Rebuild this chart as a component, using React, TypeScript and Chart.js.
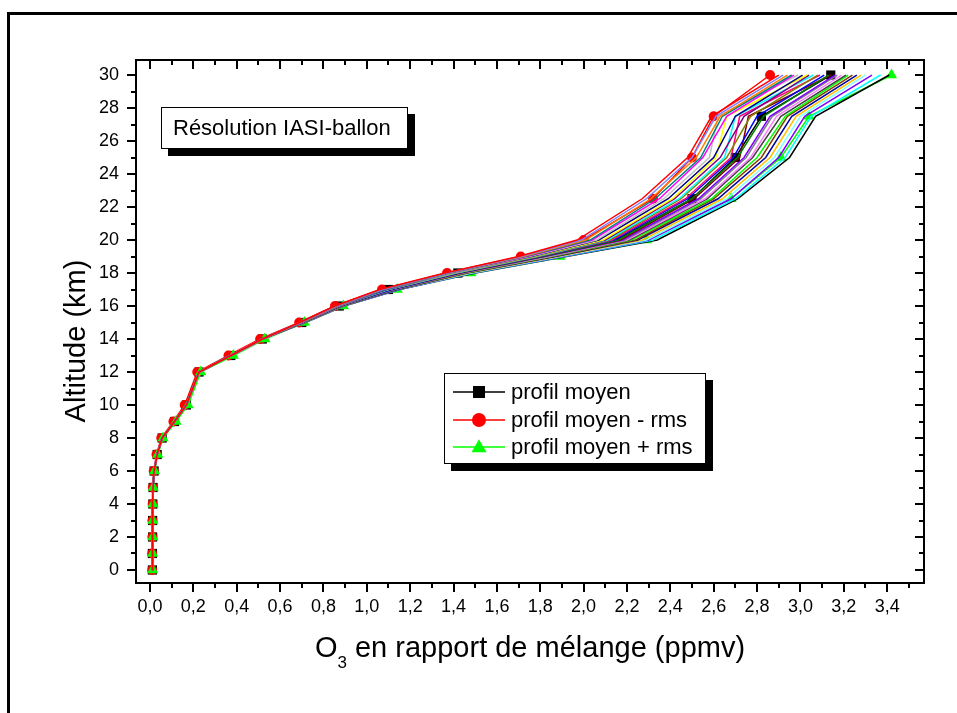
import React, { useEffect, useRef } from 'react';
import { Chart, registerables } from 'chart.js';

Chart.register(...registerables);

// ---------- data ----------
const altitudes = [0, 1, 2, 3, 4, 5, 6, 7, 8, 9, 10, 12, 13, 14, 15, 16, 17, 18, 19, 20, 22.5, 25, 27.5, 30];
const meanProfile = [0.011, 0.011, 0.012, 0.012, 0.013, 0.014, 0.019, 0.033, 0.056, 0.113, 0.168, 0.226, 0.373, 0.518, 0.700, 0.873, 1.10, 1.42, 1.80, 2.15, 2.50, 2.70, 2.82, 3.14];
const minusRmsProfile = [0.010, 0.010, 0.011, 0.011, 0.012, 0.013, 0.017, 0.030, 0.052, 0.108, 0.160, 0.218, 0.362, 0.508, 0.688, 0.853, 1.07, 1.37, 1.71, 2.00, 2.32, 2.50, 2.60, 2.86];
const plusRmsProfile = [0.012, 0.012, 0.013, 0.013, 0.014, 0.015, 0.021, 0.036, 0.060, 0.120, 0.176, 0.234, 0.384, 0.530, 0.712, 0.892, 1.14, 1.48, 1.89, 2.29, 2.68, 2.91, 3.04, 3.42];

// individual profiles: shared lower part + each profile's upper part
const ensembleLowAltitudes = [0, 1, 2, 3, 4, 5, 6, 7, 8, 9, 10, 12, 13, 14];
const ensembleLowValues = [0.011, 0.011, 0.012, 0.012, 0.013, 0.014, 0.019, 0.033, 0.056, 0.113, 0.168, 0.226, 0.373, 0.518];
const ensembleUpAltitudes = [15, 16, 17, 18, 19, 20, 22.5, 25, 27.5, 30];
const ensembleProfiles = [
  [0.690, 0.852, 1.06, 1.36, 1.70, 1.97, 2.27, 2.48, 2.59, 2.90],
  [0.691, 0.855, 1.07, 1.37, 1.71, 1.99, 2.29, 2.50, 2.61, 2.92],
  [0.692, 0.857, 1.07, 1.37, 1.72, 2.01, 2.31, 2.52, 2.63, 2.94],
  [0.693, 0.859, 1.08, 1.38, 1.73, 2.03, 2.33, 2.54, 2.64, 2.96],
  [0.694, 0.861, 1.08, 1.38, 1.74, 2.04, 2.35, 2.55, 2.66, 2.97],
  [0.695, 0.863, 1.08, 1.39, 1.75, 2.06, 2.37, 2.58, 2.62, 2.99],
  [0.696, 0.865, 1.09, 1.39, 1.76, 2.07, 2.39, 2.60, 2.70, 3.01],
  [0.697, 0.866, 1.09, 1.40, 1.77, 2.09, 2.41, 2.61, 2.66, 3.03],
  [0.698, 0.868, 1.09, 1.40, 1.77, 2.10, 2.42, 2.63, 2.74, 3.04],
  [0.699, 0.870, 1.10, 1.41, 1.78, 2.11, 2.44, 2.65, 2.70, 3.06],
  [0.700, 0.871, 1.10, 1.41, 1.79, 2.12, 2.45, 2.66, 2.77, 3.08],
  [0.701, 0.873, 1.10, 1.41, 1.79, 2.13, 2.47, 2.68, 2.72, 3.09],
  [0.702, 0.875, 1.11, 1.42, 1.80, 2.14, 2.48, 2.69, 2.80, 3.11],
  [0.703, 0.876, 1.11, 1.42, 1.81, 2.16, 2.50, 2.71, 2.83, 3.13],
  [0.704, 0.878, 1.11, 1.43, 1.81, 2.17, 2.51, 2.72, 2.76, 3.14],
  [0.705, 0.879, 1.12, 1.43, 1.82, 2.18, 2.53, 2.74, 2.86, 3.16],
  [0.706, 0.881, 1.12, 1.44, 1.83, 2.19, 2.54, 2.75, 2.87, 3.17],
  [0.707, 0.882, 1.12, 1.44, 1.84, 2.20, 2.56, 2.77, 2.89, 3.19],
  [0.708, 0.884, 1.13, 1.45, 1.84, 2.21, 2.57, 2.78, 2.91, 3.21],
  [0.709, 0.885, 1.13, 1.45, 1.85, 2.22, 2.59, 2.80, 2.93, 3.22],
  [0.710, 0.886, 1.13, 1.46, 1.86, 2.24, 2.60, 2.82, 2.94, 3.24],
  [0.711, 0.888, 1.14, 1.46, 1.87, 2.25, 2.62, 2.84, 2.96, 3.26],
  [0.712, 0.889, 1.14, 1.47, 1.88, 2.27, 2.64, 2.86, 2.98, 3.28],
  [0.713, 0.890, 1.14, 1.48, 1.89, 2.29, 2.66, 2.88, 3.00, 3.30],
  [0.714, 0.892, 1.15, 1.48, 1.90, 2.30, 2.68, 2.90, 3.02, 3.33],
  [0.715, 0.893, 1.15, 1.49, 1.91, 2.32, 2.70, 2.93, 3.05, 3.37],
  [0.716, 0.895, 1.15, 1.50, 1.92, 2.34, 2.71, 2.95, 3.07, 3.41],
];
const ensembleColors = [
  '#FF0000', '#8080FF', '#FF8000', '#008080', '#FF00FF', '#C0C0C0', '#000080', '#FFFF00',
  '#800080', '#00FFFF', '#808000', '#FF0080', '#0000FF', '#008000', '#800000', '#8000FF',
  '#808080', '#FF80FF', '#404040', '#00FF00', '#804000', '#0000A0', '#FFC000', '#80FFFF',
  '#8000FF', '#00FFFF', '#000000',
];

const xMajorTicks = [0, 0.2, 0.4, 0.6, 0.8, 1.0, 1.2, 1.4, 1.6, 1.8, 2.0, 2.2, 2.4, 2.6, 2.8, 3.0, 3.2, 3.4];
const xMinorTicks = [0.1, 0.3, 0.5, 0.7, 0.9, 1.1, 1.3, 1.5, 1.7, 1.9, 2.1, 2.3, 2.5, 2.7, 2.9, 3.1, 3.3, 3.5];
const yMajorTicks = [0, 2, 4, 6, 8, 10, 12, 14, 16, 18, 20, 22, 24, 26, 28, 30];
const yMinorTicks = [1, 3, 5, 7, 9, 11, 13, 15, 17, 19, 21, 23, 25, 27, 29];

const seriesLabels = ['profil moyen', 'profil moyen - rms', 'profil moyen + rms'];
const annotationText = 'Résolution IASI-ballon';
const yTitle = 'Altitude (km)';
const xTitleMain = 'O';
const xTitleSub = '3';
const xTitleRest = ' en rapport de mélange (ppmv)';

const FONT = '"Liberation Sans", Arial, Helvetica, sans-serif';

const toPoints = (xs: number[], ys: number[]) => xs.map((v, i) => ({ x: v, y: ys[i] }));

function drawMarker(ctx: CanvasRenderingContext2D, kind: string, x: number, y: number, s: number, color: string) {
  ctx.fillStyle = color;
  ctx.beginPath();
  if (kind === 'rect') {
    ctx.rect(x - s / 2, y - s / 2, s, s);
  } else if (kind === 'circle') {
    ctx.arc(x, y, s / 2, 0, Math.PI * 2);
  } else {
    const h = s * 0.87;
    ctx.moveTo(x, y - h * 0.6);
    ctx.lineTo(x + s / 2, y + h * 0.4);
    ctx.lineTo(x - s / 2, y + h * 0.4);
    ctx.closePath();
  }
  ctx.fill();
}

const decorPlugin = {
  id: 'decor',
  afterDraw(chart: any) {
    const { ctx, chartArea: a, scales } = chart;
    const xs = scales.x;
    const ys = scales.y;
    ctx.save();

    // outer frame (left and top)
    ctx.fillStyle = '#000';
    ctx.fillRect(7, 12, 950, 3);
    ctx.fillRect(7, 12, 3, 701);

    // axes box
    ctx.strokeStyle = '#000';
    ctx.lineWidth = 2;
    ctx.strokeRect(a.left, a.top, a.right - a.left, a.bottom - a.top);

    const seg = (x1: number, y1: number, x2: number, y2: number) => {
      ctx.beginPath();
      ctx.moveTo(x1, y1);
      ctx.lineTo(x2, y2);
      ctx.stroke();
    };
    const MAJ = 9;
    const MIN = 5;
    xMajorTicks.forEach((v) => {
      const p = Math.round(xs.getPixelForValue(v));
      seg(p, a.bottom, p, a.bottom + MAJ);
      seg(p, a.top, p, a.top + MAJ);
    });
    xMinorTicks.forEach((v) => {
      const p = Math.round(xs.getPixelForValue(v));
      seg(p, a.bottom, p, a.bottom + MIN);
      seg(p, a.top, p, a.top + MIN);
    });
    yMajorTicks.forEach((v) => {
      const p = Math.round(ys.getPixelForValue(v));
      seg(a.left - MAJ, p, a.left, p);
      seg(a.right - MAJ, p, a.right, p);
    });
    yMinorTicks.forEach((v) => {
      const p = Math.round(ys.getPixelForValue(v));
      seg(a.left - MIN, p, a.left, p);
      seg(a.right - MIN, p, a.right, p);
    });

    // x title with subscript
    ctx.fillStyle = '#000';
    ctx.textBaseline = 'alphabetic';
    ctx.textAlign = 'left';
    const bigFont = `29px ${FONT}`;
    const subFont = `17px ${FONT}`;
    ctx.font = bigFont;
    const w1 = ctx.measureText(xTitleMain).width;
    const w3 = ctx.measureText(xTitleRest).width;
    ctx.font = subFont;
    const w2 = ctx.measureText(xTitleSub).width;
    const total = w1 + w2 + w3;
    let tx = (a.left + a.right) / 2 - total / 2;
    ctx.font = bigFont;
    ctx.fillText(xTitleMain, tx, 657);
    tx += w1;
    ctx.font = subFont;
    ctx.fillText(xTitleSub, tx, 668);
    tx += w2;
    ctx.font = bigFont;
    ctx.fillText(xTitleRest, tx, 657);

    // y title
    ctx.save();
    ctx.translate(85, 341);
    ctx.rotate(-Math.PI / 2);
    ctx.textAlign = 'center';
    ctx.font = bigFont;
    ctx.fillText(yTitle, 0, 0);
    ctx.restore();

    // annotation box with shadow
    ctx.fillStyle = '#000';
    ctx.fillRect(168, 114, 247, 42);
    ctx.fillStyle = '#fff';
    ctx.fillRect(161, 107, 247, 42);
    ctx.lineWidth = 1;
    ctx.strokeStyle = '#000';
    ctx.strokeRect(161.5, 107.5, 246, 41);
    ctx.fillStyle = '#000';
    ctx.font = `22px ${FONT}`;
    ctx.textBaseline = 'middle';
    ctx.textAlign = 'left';
    ctx.fillText(annotationText, 173, 129);

    // legend with shadow
    ctx.fillStyle = '#000';
    ctx.fillRect(451, 380, 262, 91);
    ctx.fillStyle = '#fff';
    ctx.fillRect(444, 373, 262, 91);
    ctx.strokeStyle = '#000';
    ctx.lineWidth = 1;
    ctx.strokeRect(444.5, 373.5, 261, 90);
    const rows = [392, 420, 447];
    const colors = ['#000000', '#FF0000', '#00FF00'];
    const kinds = ['rect', 'circle', 'triangle'];
    const sizes = [12, 14, 15];
    rows.forEach((ry, i) => {
      ctx.strokeStyle = colors[i];
      ctx.lineWidth = 1.5;
      seg(453, ry, 505, ry);
      drawMarker(ctx, kinds[i], 479, ry, sizes[i], colors[i]);
      ctx.fillStyle = '#000';
      ctx.font = `22px ${FONT}`;
      ctx.textBaseline = 'middle';
      ctx.fillText(seriesLabels[i], 511, ry + 1);
    });

    ctx.restore();
  },
};

export default function App() {
  const ref = useRef<HTMLCanvasElement>(null);

  useEffect(() => {
    const canvas = ref.current;
    if (!canvas) return;

    const ensembleDatasets = ensembleProfiles.map((prof, i) => ({
      label: `profil ${i + 1}`,
      data: [
        ...toPoints(ensembleLowValues, ensembleLowAltitudes),
        ...toPoints(prof, ensembleUpAltitudes),
      ],
      showLine: true,
      borderColor: ensembleColors[i % ensembleColors.length],
      borderWidth: 1.5,
      pointRadius: 0,
      tension: 0,
      order: 1,
    }));

    const marked = [
      { values: meanProfile, color: '#000000', style: 'rect', radius: 6.5, order: 7 },
      { values: minusRmsProfile, color: '#FF0000', style: 'circle', radius: 5, order: 6 },
      { values: plusRmsProfile, color: '#00FF00', style: 'triangle', radius: 6.5, order: 5 },
    ].map((s, i) => ({
      label: seriesLabels[i],
      data: toPoints(s.values, altitudes),
      showLine: true,
      borderColor: s.color,
      borderWidth: 1.5,
      pointStyle: s.style,
      pointRadius: s.radius,
      pointBackgroundColor: s.color,
      pointBorderColor: s.color,
      pointBorderWidth: 0,
      tension: 0,
      order: s.order,
    }));

    const chart = new Chart(canvas, {
      type: 'scatter',
      data: { datasets: [...ensembleDatasets, ...marked] as any },
      options: {
        animation: false,
        responsive: false,
        events: [],
        layout: { padding: { top: 60, right: 33, left: 0, bottom: 0 } },
        plugins: { legend: { display: false }, tooltip: { enabled: false }, title: { display: false } },
        scales: {
          x: {
            type: 'linear',
            min: -0.0646,
            max: 3.570,
            afterBuildTicks: (s: any) => {
              s.ticks = xMajorTicks.map((v) => ({ value: v }));
            },
            afterFit: (s: any) => {
              s.height = 130;
            },
            grid: { display: false, drawTicks: false },
            border: { display: false },
            ticks: {
              autoSkip: false,
              maxRotation: 0,
              padding: 13,
              color: '#000',
              font: { size: 18, family: FONT },
              callback: (v: any) => Number(v).toFixed(1).replace('.', ','),
            },
          },
          y: {
            type: 'linear',
            min: -0.788,
            max: 30.91,
            afterBuildTicks: (s: any) => {
              s.ticks = yMajorTicks.map((v) => ({ value: v }));
            },
            afterFit: (s: any) => {
              s.width = 136;
            },
            grid: { display: false, drawTicks: false },
            border: { display: false },
            ticks: {
              autoSkip: false,
              padding: 17,
              color: '#000',
              font: { size: 18, family: FONT },
              callback: (v: any) => String(v),
            },
          },
        },
      },
      plugins: [decorPlugin],
    });

    return () => chart.destroy();
  }, []);

  return (
    <div style={{ position: 'absolute', left: 0, top: 0, width: 957, height: 713, background: '#fff' }}>
      <canvas ref={ref} width={957} height={713} style={{ display: 'block', width: 957, height: 713 }} />
    </div>
  );
}
